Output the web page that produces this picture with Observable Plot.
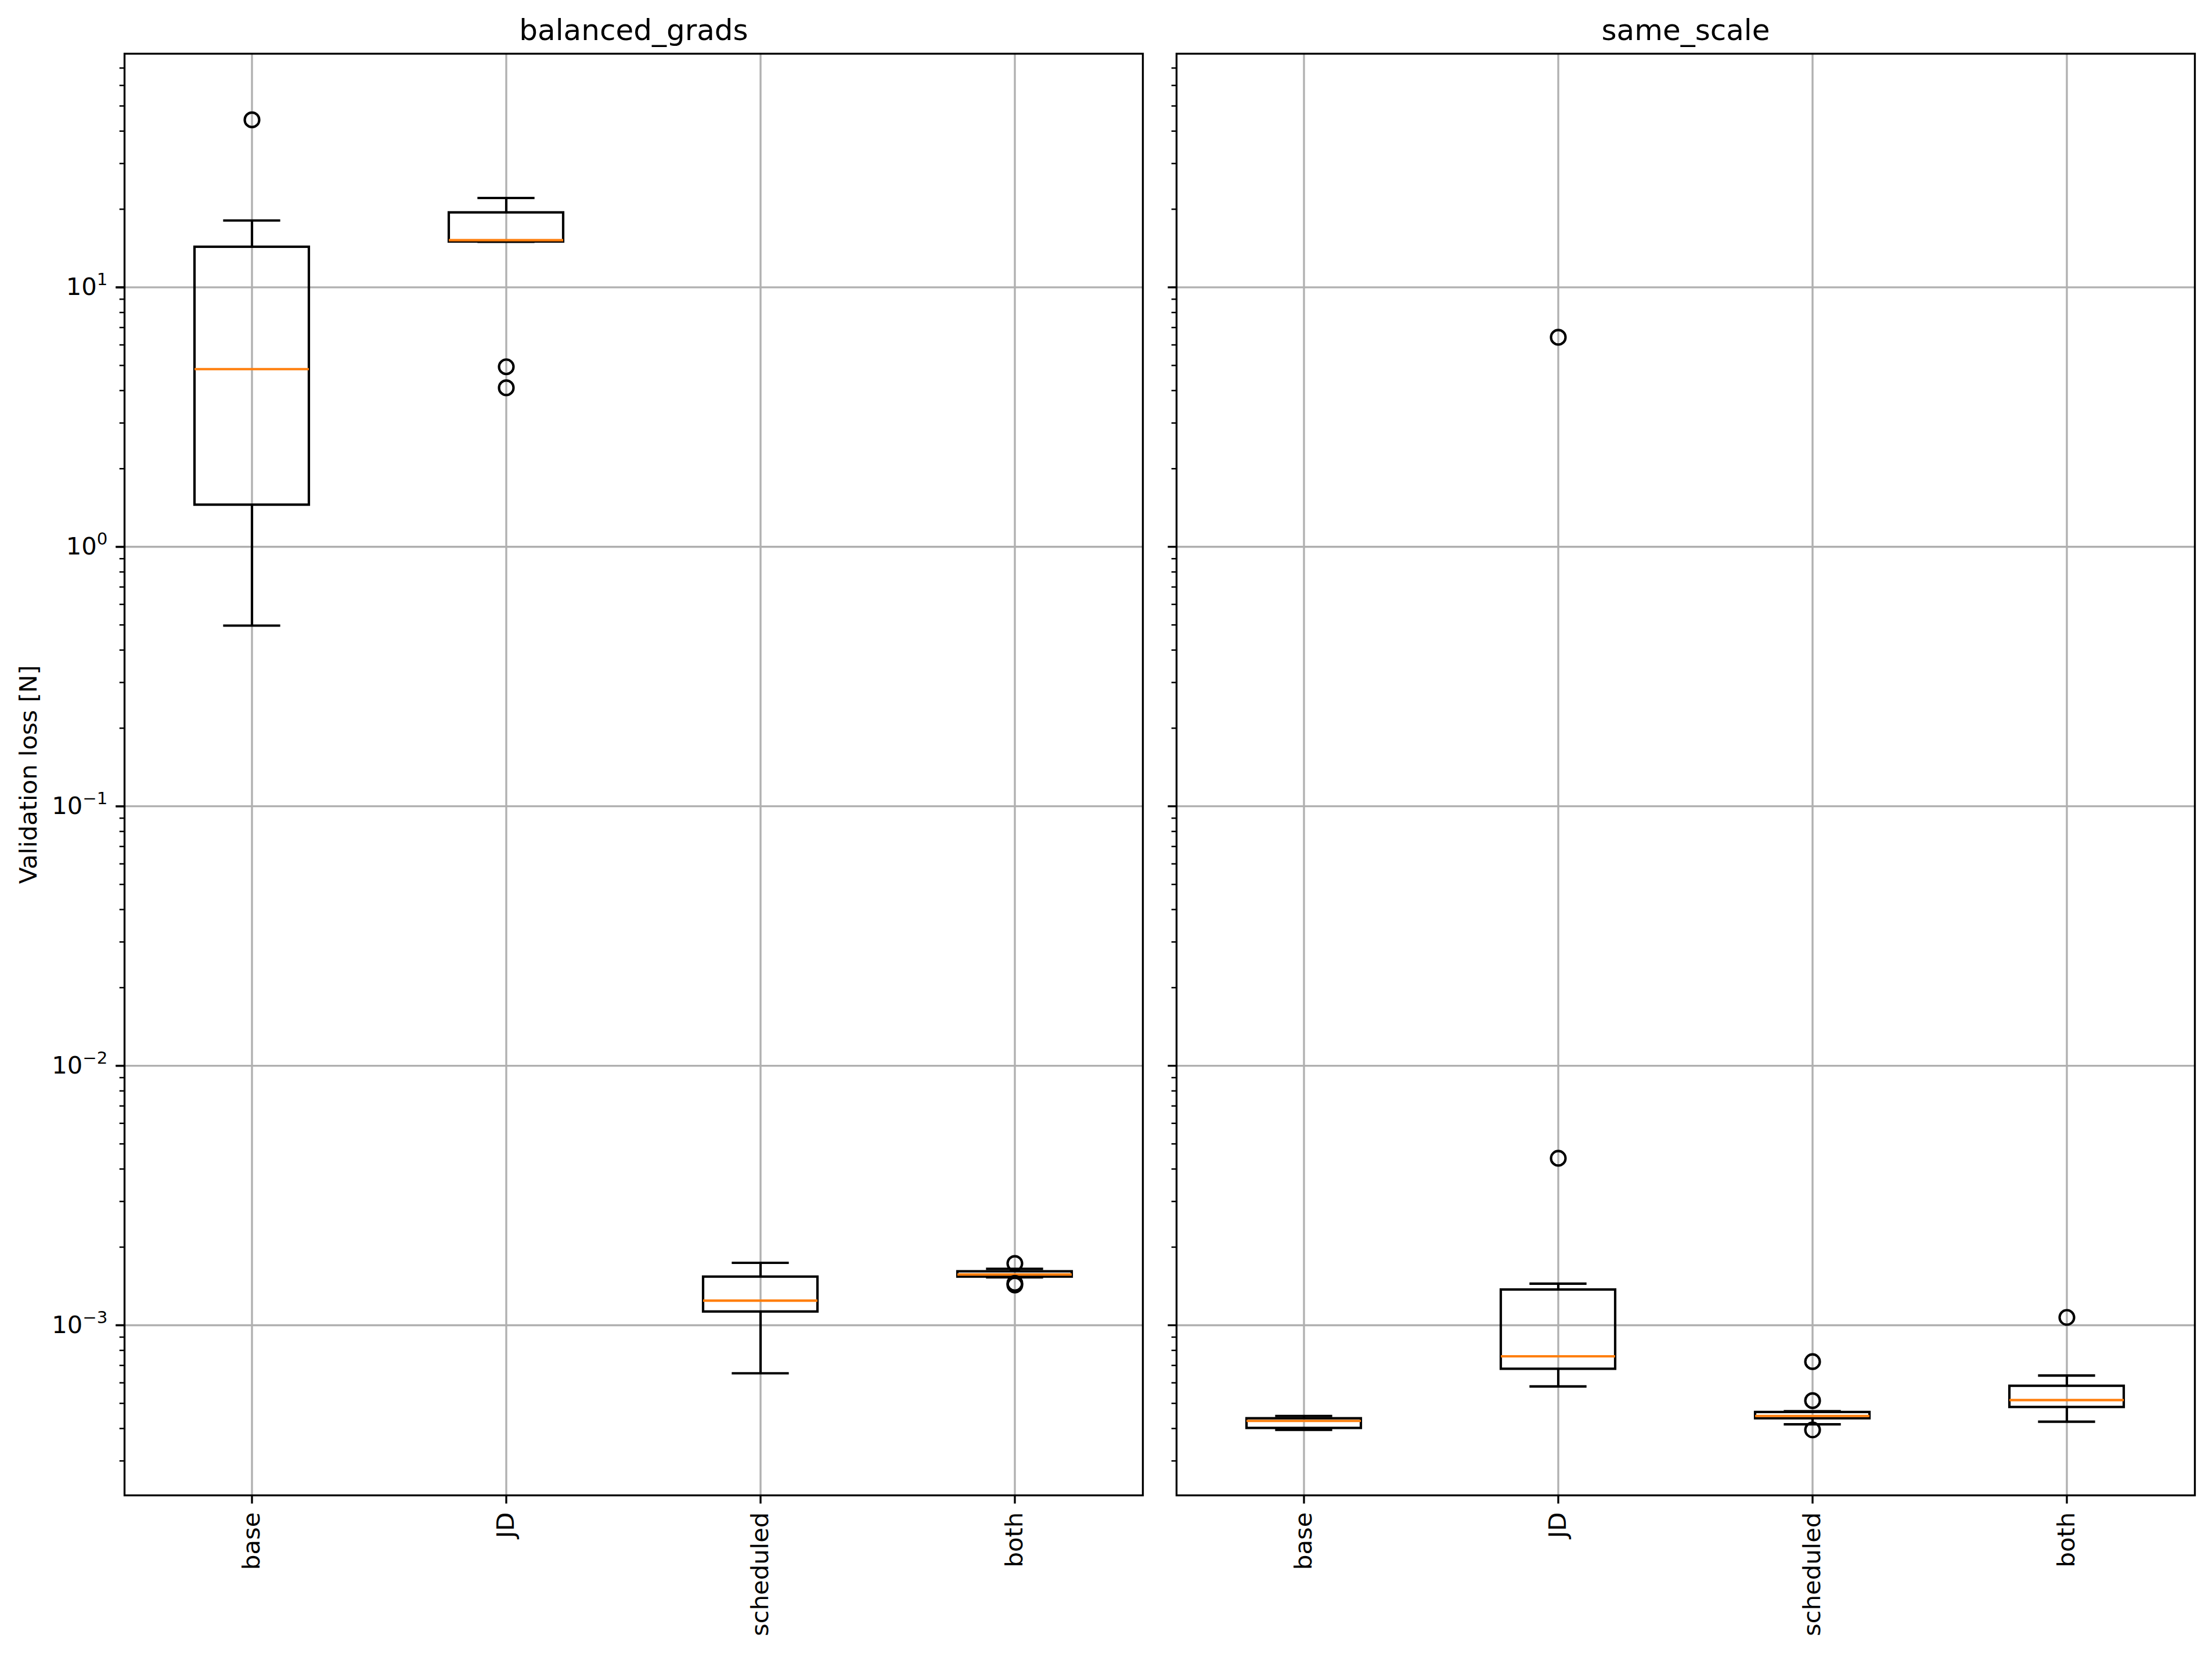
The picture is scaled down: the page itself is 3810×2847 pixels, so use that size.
<!DOCTYPE html>
<html>
<head>
<meta charset="utf-8">
<script src="https://cdn.jsdelivr.net/npm/d3@7"></script>
<script src="https://cdn.jsdelivr.net/npm/@observablehq/plot@0.6"></script>
<style>
  html, body { margin: 0; padding: 0; background: #ffffff; }
  svg { display: block; }
</style>
</head>
<body>
<div id="chart"></div>
<script>
// ---------------- data ----------------
const panels = ["balanced_grads", "same_scale"];
const categories = ["base", "JD", "scheduled", "both"];

// balanced_grads box statistics (per category)
const bgWhiskerLow  = [0.497, 14.98, 6.53e-4, 1.53e-3];
const bgQ1          = [1.45, 14.98, 1.127e-3, 1.536e-3];
const bgMedian      = [4.84, 15.2, 1.244e-3, 1.568e-3];
const bgQ3          = [14.3, 19.4, 1.536e-3, 1.61e-3];
const bgWhiskerHigh = [18.1, 22.1, 1.74e-3, 1.65e-3];
const bgOutlierCategory = ["base", "JD", "JD", "both", "both", "both"];
const bgOutlierValue    = [44.2, 4.94, 4.10, 1.73e-3, 1.43e-3, 1.45e-3];

// same_scale box statistics (per category)
const ssWhiskerLow  = [3.95e-4, 5.81e-4, 4.15e-4, 4.25e-4];
const ssQ1          = [4.01e-4, 6.78e-4, 4.37e-4, 4.83e-4];
const ssMedian      = [4.28e-4, 7.59e-4, 4.47e-4, 5.15e-4];
const ssQ3          = [4.37e-4, 1.37e-3, 4.62e-4, 5.83e-4];
const ssWhiskerHigh = [4.47e-4, 1.446e-3, 4.66e-4, 6.40e-4];
const ssOutlierCategory = ["JD", "JD", "scheduled", "scheduled", "scheduled", "both"];
const ssOutlierValue    = [6.42, 4.40e-3, 7.24e-4, 5.12e-4, 3.95e-4, 1.072e-3];

// axis
const yTickValues = [1e-3, 1e-2, 1e-1, 1, 10];
const yTickExponents = ["\u22123", "\u22122", "\u22121", "0", "1"];
const yDomain = [2.21e-4, 79.5];
const yLabel = "Validation loss [N]";

// ---------------- tables built from the arrays ----------------
function boxTable(panel, lo, q1, med, q3, hi) {
  return categories.map((c, i) => ({panel, category: c, whiskerLow: lo[i], q1: q1[i], median: med[i], q3: q3[i], whiskerHigh: hi[i]}));
}
const boxes = [
  ...boxTable(panels[0], bgWhiskerLow, bgQ1, bgMedian, bgQ3, bgWhiskerHigh),
  ...boxTable(panels[1], ssWhiskerLow, ssQ1, ssMedian, ssQ3, ssWhiskerHigh)
];
const outliers = [
  ...bgOutlierCategory.map((c, i) => ({panel: panels[0], category: c, value: bgOutlierValue[i]})),
  ...ssOutlierCategory.map((c, i) => ({panel: panels[1], category: c, value: ssOutlierValue[i]}))
];

// ---------------- layout / style ----------------
const W = 3810, H = 2847;
const mL = 214, mR = 29, mT = 92, mB = 272;
const gap = 58;
const facetW = (W - mL - mR - gap) / 2;
const step = facetW / categories.length;
const boxW = 0.45 * step;
const capInset = boxW / 4;
const LW = 4.17;          // 1pt lines
const AXW = 3.33;         // 0.8pt axis lines
const GRID = "#b0b0b0";
const FS = 41.7;          // 10pt
const TITLE_FS = 50;      // 12pt

const chart = Plot.plot({
  width: W,
  height: H,
  marginLeft: mL,
  marginRight: mR,
  marginTop: mT,
  marginBottom: mB,
  style: {fontFamily: "'DejaVu Sans', sans-serif", fontSize: FS + "px", background: "white", color: "black"},
  fx: {domain: panels, paddingInner: gap / (facetW + gap), paddingOuter: 0, label: null},
  x: {type: "band", domain: categories, paddingInner: 0.55, paddingOuter: 0.275, label: null},
  y: {type: "log", domain: yDomain, label: yLabel},
  marks: [
    Plot.gridY(yTickValues, {stroke: GRID, strokeOpacity: 1, strokeWidth: AXW}),
    Plot.gridX(categories, {stroke: GRID, strokeOpacity: 1, strokeWidth: AXW}),
    // whiskers
    Plot.ruleX(boxes, {fx: "panel", x: "category", y1: "whiskerLow", y2: "q1", stroke: "black", strokeWidth: LW}),
    Plot.ruleX(boxes, {fx: "panel", x: "category", y1: "q3", y2: "whiskerHigh", stroke: "black", strokeWidth: LW}),
    // caps
    Plot.tickY(boxes, {fx: "panel", x: "category", y: "whiskerLow", insetLeft: capInset, insetRight: capInset, stroke: "black", strokeWidth: LW}),
    Plot.tickY(boxes, {fx: "panel", x: "category", y: "whiskerHigh", insetLeft: capInset, insetRight: capInset, stroke: "black", strokeWidth: LW}),
    // boxes
    Plot.barY(boxes, {fx: "panel", x: "category", y1: "q1", y2: "q3", fill: "none", stroke: "black", strokeWidth: LW}),
    // medians
    Plot.tickY(boxes, {fx: "panel", x: "category", y: "median", stroke: "#ff7f0e", strokeWidth: LW}),
    // fliers
    Plot.dot(outliers, {fx: "panel", x: "category", y: "value", r: 12.5, fill: "none", stroke: "black", strokeWidth: LW}),
    // y axis: labelled major ticks (left panel)
    Plot.axisY(yTickValues, {
      anchor: "left", tickSize: 14.6, tickPadding: 14.6, strokeWidth: AXW, fontSize: FS,
      tickFormat: d => "10^" + yTickExponents[yTickValues.indexOf(d)],
      label: yLabel, labelAnchor: "center", labelArrow: "none", labelOffset: 181
    }),
    // y major ticks on all panels
    Plot.axisY(yTickValues, {anchor: "left", facetAnchor: null, tickSize: 14.6, strokeWidth: AXW, tickFormat: () => "", label: null}),
    // y minor ticks on all panels
    Plot.axisY({anchor: "left", facetAnchor: null, tickSize: 8.3, strokeWidth: 2.5, tickFormat: () => "", label: null}),
    // x axis
    Plot.axisX({anchor: "bottom", tickRotate: -90, tickSize: 14.6, tickPadding: 14.6, strokeWidth: AXW, fontSize: FS, label: null}),
    // panel titles
    Plot.axisFx({anchor: "top", tickSize: 0, tickPadding: 24, fontSize: TITLE_FS, label: null}),
    Plot.frame({stroke: "black", strokeWidth: AXW})
  ]
});

// render "10^k" tick labels with a raised exponent
d3.select(chart).selectAll('g[aria-label="y-axis tick label"] text').each(function () {
  const m = /^10\^(.+)$/.exec(this.textContent);
  if (!m) return;
  const sel = d3.select(this);
  sel.text(null);
  sel.append("tspan").text("10");
  sel.append("tspan").attr("font-size", FS * 0.7).attr("dy", -17).text(m[1]);
});

document.getElementById("chart").appendChild(chart);
</script>
</body>
</html>
